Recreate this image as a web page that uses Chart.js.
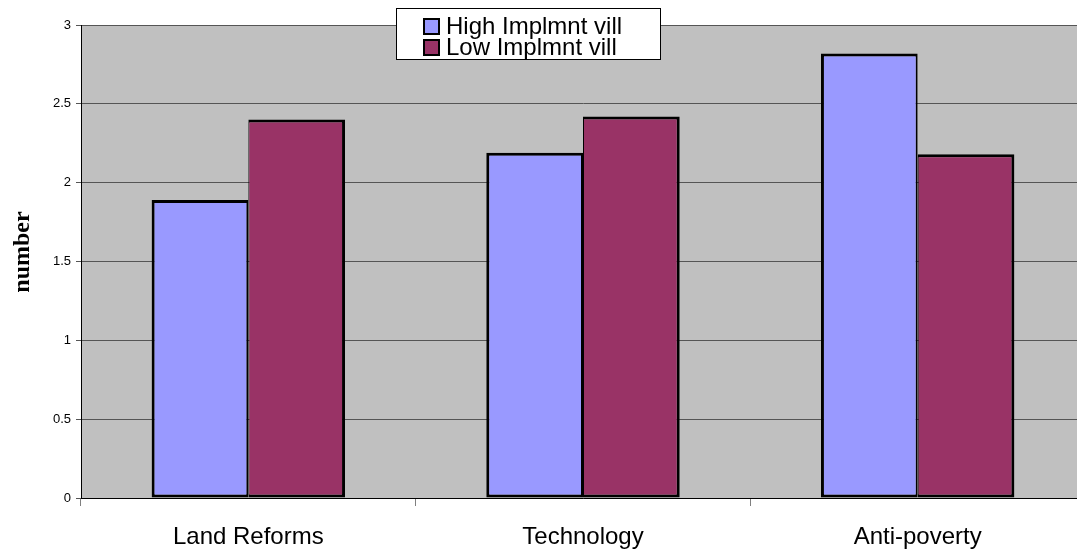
<!DOCTYPE html>
<html>
<head>
<meta charset="utf-8">
<style>
  html, body { margin: 0; padding: 0; background: #fff; overflow: hidden; }
  #wrap { width: 1077px; height: 550px; position: relative; overflow: hidden; }
  #c { position: absolute; left: 0; top: 0; }
</style>
<script src="https://cdn.jsdelivr.net/npm/chart.js@4.4.1/dist/chart.umd.min.js"></script>
</head>
<body>
<div id="wrap"><canvas id="c" width="1085" height="550"></canvas></div>
<script>
// Programme categories and mean counts per village group
const categories = ['Land Reforms', 'Technology', 'Anti-poverty'];
const highImplmnt = [1.89, 2.19, 2.82];
const lowImplmnt = [2.40, 2.42, 2.18];
const seriesNames = ['High Implmnt vill', 'Low Implmnt vill'];
const yTicks = [0, 0.5, 1, 1.5, 2, 2.5, 3];
const yTickLabels = ['0', '0.5', '1', '1.5', '2', '2.5', '3'];
const yTitle = 'number';

// Grey plot area behind the bars
const plotBackground = {
  id: 'plotBackground',
  beforeDraw(chart) {
    const { ctx, chartArea: a } = chart;
    ctx.save();
    ctx.fillStyle = '#C0C0C0';
    ctx.fillRect(a.left, a.top, a.right - a.left, a.bottom - a.top);
    ctx.restore();
  }
};

// Rotated value-axis title
const axisTitle = {
  id: 'axisTitle',
  afterDraw(chart) {
    const { ctx } = chart;
    ctx.save();
    ctx.translate(23, 252);
    ctx.rotate(-Math.PI / 2);
    ctx.font = 'bold 24px "Liberation Serif", "Times New Roman", serif';
    ctx.fillStyle = '#000';
    ctx.textAlign = 'center';
    ctx.textBaseline = 'middle';
    ctx.fillText(yTitle, 0, 0);
    ctx.restore();
  }
};

// Boxed two-row legend overlapping the top of the plot
const boxedLegend = {
  id: 'boxedLegend',
  afterDraw(chart) {
    const { ctx } = chart;
    const x = 396.5, y = 8.5, w = 264, h = 51;
    ctx.save();
    ctx.fillStyle = '#fff';
    ctx.fillRect(x, y, w, h);
    ctx.strokeStyle = '#000';
    ctx.lineWidth = 1;
    ctx.strokeRect(x, y, w, h);
    ctx.font = '24px "Liberation Sans", Arial, sans-serif';
    ctx.textBaseline = 'middle';
    ctx.textAlign = 'left';
    chart.data.datasets.forEach((ds, i) => {
      const cy = 26 + i * 21;
      ctx.fillStyle = ds.backgroundColor;
      ctx.fillRect(424, cy - 7, 15, 15);
      ctx.lineWidth = 2;
      ctx.strokeStyle = '#000';
      ctx.strokeRect(424, cy - 7, 15, 15);
      ctx.fillStyle = '#000';
      ctx.fillText(ds.label, 446, cy + 1);
    });
    ctx.restore();
  }
};

new Chart(document.getElementById('c'), {
  type: 'bar',
  data: {
    labels: categories,
    datasets: [
      {
        label: seriesNames[0],
        data: highImplmnt,
        backgroundColor: '#9999FF',
        borderColor: '#000',
        borderWidth: { top: 3, left: 3, bottom: 3, right: 2 },
        borderSkipped: false,
        categoryPercentage: 0.578,
        barPercentage: 1.0
      },
      {
        label: seriesNames[1],
        data: lowImplmnt,
        backgroundColor: '#993366',
        borderColor: '#000',
        borderWidth: { top: 3, left: 1, bottom: 3, right: 3 },
        borderSkipped: false,
        categoryPercentage: 0.578,
        barPercentage: 1.0
      }
    ]
  },
  options: {
    responsive: false,
    animation: false,
    devicePixelRatio: 1,
    layout: { padding: { top: 25, right: 0, bottom: 0, left: 0 } },
    plugins: {
      legend: { display: false },
      tooltip: { enabled: false }
    },
    scales: {
      x: {
        grid: {
          offset: true,
          drawOnChartArea: false,
          drawTicks: true,
          tickLength: 8,
          color: '#808080'
        },
        border: { display: true, color: '#000', width: 1 },
        ticks: {
          color: '#000',
          padding: 17,
          font: { family: '"Liberation Sans", Arial, sans-serif', size: 24 }
        },
        afterFit(scale) { scale.height = 52; }
      },
      y: {
        min: 0,
        max: 3,
        afterBuildTicks(scale) { scale.ticks = yTicks.map(v => ({ value: v })); },
        grid: {
          color: '#555',
          lineWidth: 1,
          drawTicks: true,
          tickLength: 5
        },
        border: { display: true, color: '#000', width: 1 },
        ticks: {
          color: '#000',
          padding: 5,
          font: { family: '"Liberation Sans", Arial, sans-serif', size: 13 },
          callback(value, index) { return yTickLabels[index]; }
        },
        afterFit(scale) { scale.width = 81; }
      }
    }
  },
  plugins: [plotBackground, axisTitle, boxedLegend]
});
</script>
</body>
</html>
